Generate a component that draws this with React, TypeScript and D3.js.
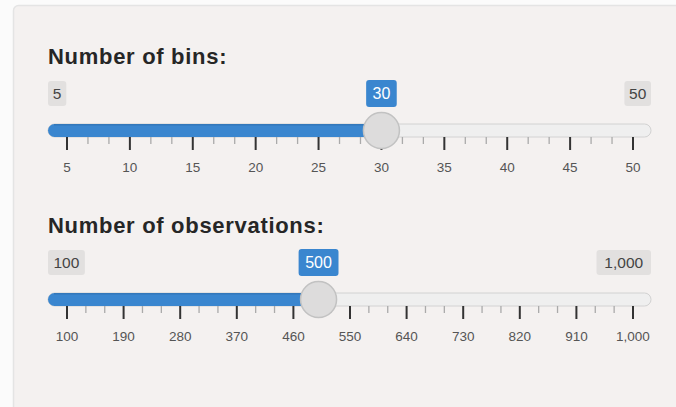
import React from "react";
import * as d3 from "d3";

const binsLabel = "Number of bins:";
const binsMin = 5;
const binsMax = 50;
const binsValue = 30;
const binsTicks = [5, 10, 15, 20, 25, 30, 35, 40, 45, 50];

const obsLabel = "Number of observations:";
const obsMin = 100;
const obsMax = 1000;
const obsValue = 500;
const obsTicks = [100, 190, 280, 370, 460, 550, 640, 730, 820, 910, 1000];

const fmt = d3.format(",");
const FONT = "'Liberation Sans', Arial, Helvetica, sans-serif";

type SliderProps = {
  top: number;
  label: string;
  min: number;
  max: number;
  value: number;
  ticks: number[];
};

function Slider({ top, label, min, max, value, ticks }: SliderProps) {
  const x = d3.scaleLinear().domain([min, max]).range([67, 633]);
  const trackL = 48;
  const trackR = 651;
  const trackY = top + 67;
  const trackH = 13;
  const cy = trackY + trackH / 2;
  const hx = x(value);
  const minors: number[] = [];
  for (let i = 0; i < ticks.length - 1; i++) {
    const a = ticks[i];
    const b = ticks[i + 1];
    minors.push(a + (b - a) / 3, a + (2 * (b - a)) / 3);
  }
  const minTxt = fmt(min);
  const maxTxt = fmt(max);
  const valTxt = fmt(value);
  const charW = 9.3;
  const minW = minTxt.length * charW + 9;
  const maxW = maxTxt.length * charW + 8;
  const valW = valTxt.length * charW + 12;
  const boxY = top + 24;
  const boxH = 25;
  return (
    <g>
      <text x={48} y={top + 6.5} fontFamily={FONT} fontWeight="bold" fontSize={22} letterSpacing={0.7} fill="#262626">
        {label}
      </text>
      {/* min box */}
      <rect x={48} y={boxY} width={minW} height={boxH} rx={3} fill="#e2e0df" />
      <text x={48 + minW / 2} y={boxY + 17.5} textAnchor="middle" fontFamily={FONT} fontSize={15.5} fill="#444">
        {minTxt}
      </text>
      {/* max box */}
      <rect x={trackR - maxW} y={boxY} width={maxW} height={boxH} rx={3} fill="#e2e0df" />
      <text x={trackR - maxW / 2} y={boxY + 17.5} textAnchor="middle" fontFamily={FONT} fontSize={15.5} fill="#444">
        {maxTxt}
      </text>
      {/* track */}
      <rect x={trackL} y={trackY} width={trackR - trackL} height={trackH} rx={trackH / 2} fill="#efefef" stroke="#d2d2d2" strokeWidth={1} />
      <rect x={trackL} y={trackY} width={hx - trackL} height={trackH} rx={trackH / 2} fill="#3a86cf" />
      <rect x={trackL + 6} y={trackY} width={hx - trackL - 6} height={1.5} fill="#2f6fae" opacity={0.6} />
      {/* ticks */}
      {ticks.map((t) => (
        <line key={"M" + t} x1={x(t)} x2={x(t)} y1={trackY + trackH} y2={trackY + trackH + 13} stroke="#333" strokeWidth={2} />
      ))}
      {minors.map((t, i) => (
        <line key={"m" + i} x1={x(t)} x2={x(t)} y1={trackY + trackH} y2={trackY + trackH + 7} stroke="#aaa" strokeWidth={1.3} />
      ))}
      {ticks.map((t) => (
        <text key={"L" + t} x={x(t)} y={trackY + trackH + 35} textAnchor="middle" fontFamily={FONT} fontSize={13.5} fill="#555">
          {fmt(t)}
        </text>
      ))}
      {/* value box */}
      <rect x={hx - valW / 2} y={boxY - 1} width={valW} height={boxH + 2} rx={3} fill="#3a86cf" />
      <text x={hx} y={boxY + 18} textAnchor="middle" fontFamily={FONT} fontSize={16} fill="#fff">
        {valTxt}
      </text>
      {/* handle */}
      <circle cx={hx} cy={cy} r={18} fill="#dddcdc" stroke="#c2c2c2" strokeWidth={1.5} />
    </g>
  );
}

export default function App() {
  return (
    <svg width={676} height={407} style={{ position: "absolute", left: 0, top: 0, display: "block" }}>
      <rect x={0} y={0} width={676} height={407} fill="#fbfbfb" />
      <rect x={13.5} y={5.5} width={700} height={450} rx={5} fill="#f4f1f0" stroke="#e4e4e4" strokeWidth={1.5} />
      <Slider top={57} label={binsLabel} min={binsMin} max={binsMax} value={binsValue} ticks={binsTicks} />
      <Slider top={226} label={obsLabel} min={obsMin} max={obsMax} value={obsValue} ticks={obsTicks} />
    </svg>
  );
}
